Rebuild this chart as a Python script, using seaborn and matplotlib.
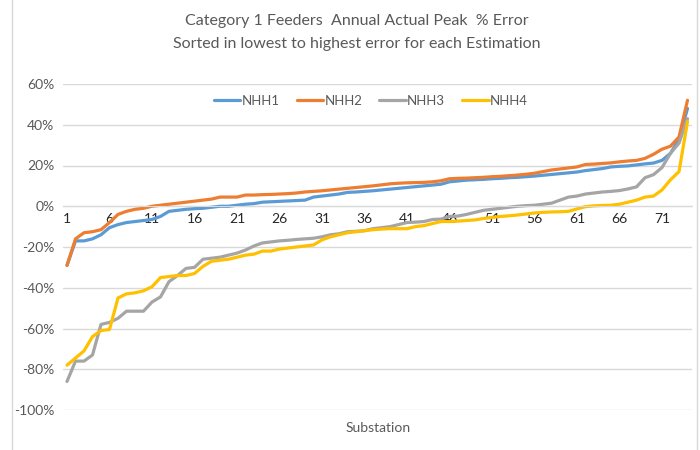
import matplotlib
matplotlib.use("Agg")
import matplotlib.pyplot as plt
import numpy as np
import pandas as pd
import seaborn as sns

# percent error per substation, sorted low -> high for each estimation
nhh1 = [-29, -17, -17, -16, -14, -10.5, -9, -8, -7.5, -7,
        -6.5, -5, -2.5, -2, -1.5, -1.2, -1, -0.5, 0, 0,
        0.5, 1, 1.3, 2, 2.2, 2.4, 2.6, 2.8, 3, 4.5,
        5, 5.5, 6, 6.8, 7, 7.3, 7.6, 8, 8.4, 8.8,
        9.2, 9.6, 10, 10.4, 10.8, 12, 12.4, 12.8, 13, 13.2,
        13.5, 13.7, 14, 14.2, 14.5, 14.8, 15.2, 15.6, 16, 16.4,
        16.8, 17.5, 18, 18.5, 19.3, 19.6, 19.8, 20.3, 20.8, 21.2,
        22.5, 26, 33, 48]
nhh2 = [-29, -16, -13, -12.5, -11.5, -8, -4, -2.5, -1.5, -1,
        0, 0.5, 1, 1.5, 2, 2.5, 3, 3.5, 4.5, 4.5,
        4.5, 5.5, 5.5, 5.7, 5.8, 6, 6.2, 6.5, 7, 7.3,
        7.6, 8, 8.4, 8.8, 9.2, 9.6, 10, 10.5, 11, 11.3,
        11.5, 11.6, 11.7, 12, 12.5, 13.5, 13.7, 13.8, 14, 14.2,
        14.5, 14.7, 15, 15.3, 15.7, 16.2, 17, 17.8, 18.3, 18.8,
        19.3, 20.5, 20.7, 21, 21.3, 21.8, 22.2, 22.5, 23.5, 25.5,
        28, 29.5, 34, 52]
nhh3 = [-86, -76, -76, -73, -58, -57, -55, -51.5, -51.5, -51.5,
        -47, -44.5, -37, -34, -30.5, -30, -26, -25.5, -25, -24,
        -23, -21.5, -19.5, -18, -17.5, -17, -16.7, -16.3, -16, -15.7,
        -15, -14, -13.5, -12.5, -12.3, -12, -11, -10.5, -10, -9,
        -8, -7.8, -7.5, -6.5, -6.3, -5, -4.8, -4, -3, -2,
        -1.5, -1, -0.5, 0, 0.3, 0.5, 1, 1.5, 3, 4.5,
        5, 6, 6.5, 7, 7.3, 7.7, 8.5, 9.5, 14, 15.5,
        19, 26, 31, 43]
nhh4 = [-78, -74.5, -71, -64, -61, -60.5, -45, -43, -42.5, -41.5,
        -39.5, -35, -34.5, -34, -34, -33, -29.5, -27, -26.5, -26,
        -25, -24, -23.5, -22, -22, -21, -20.5, -20, -19.5, -19,
        -16.5, -15, -14, -13, -12.5, -12, -11.5, -11.2, -11, -11,
        -11, -10, -9.5, -8.5, -7.5, -7.5, -7.3, -7, -6.7, -6,
        -5.5, -5, -4.7, -4.3, -3.8, -3.3, -3, -2.8, -2.7, -2.5,
        -1.3, -0.2, 0.2, 0.4, 0.5, 1, 2, 3, 4.5, 5,
        8, 13, 17, 41.5]

series = {"NHH1": nhh1, "NHH2": nhh2, "NHH3": nhh3, "NHH4": nhh4}
colors = ["#5B9BD5", "#ED7D31", "#A5A5A5", "#FFC000"]
substation = list(range(1, len(nhh1) + 1))
xticks = list(range(1, 72, 5))
yticks = [-100, -80, -60, -40, -20, 0, 20, 40, 60]

rows = []
for name, vals in series.items():
    for s, v in zip(substation, vals):
        rows.append({"Substation": s, "Error": v, "Estimation": name})
df = pd.DataFrame(rows)

sns.set_style("white")
plt.rcParams["font.family"] = ["Lato", "DejaVu Sans"]
txt = "#595959"

fig = plt.figure(figsize=(7, 4.5), dpi=100)
ax = fig.add_axes([62.75 / 700, 1 - 410 / 450, 629 / 700, 326 / 450])

sns.lineplot(data=df, x="Substation", y="Error", hue="Estimation",
             palette=colors, linewidth=2.3, ax=ax)

ax.set_xlim(0.5, 74.5)
ax.set_ylim(-100, 60)
ax.set_yticks(yticks)
ax.set_yticklabels([f"{t}%" for t in yticks], color=txt, fontsize=10)
ax.set_xticks(xticks)
ax.set_xticklabels([str(t) for t in xticks], color=txt, fontsize=10)
ax.grid(axis="y", color="#D9D9D9", linewidth=1)
ax.set_axisbelow(True)
for sp in ["top", "right", "left"]:
    ax.spines[sp].set_visible(False)
ax.spines["bottom"].set_position(("data", 0))
ax.spines["bottom"].set_color("#D9D9D9")
ax.tick_params(axis="both", length=0)
ax.tick_params(axis="x", pad=5)
ax.tick_params(axis="y", pad=6)
ax.set_xlabel("")
ax.set_ylabel("")

ax.legend(loc="center", bbox_to_anchor=(0.49, 0.948), ncol=4, frameon=False,
          fontsize=9.5, labelcolor=txt, handlelength=2.0, columnspacing=1.3,
          handletextpad=0.1)

fig.text(357 / 700, 1 - 21 / 450, "Category 1 Feeders  Annual Actual Peak  % Error",
         ha="center", va="center", fontsize=11.5, color=txt)
fig.text(357 / 700, 1 - 44 / 450, "Sorted in lowest to highest error for each Estimation",
         ha="center", va="center", fontsize=11.5, color=txt)
fig.text(378 / 700, 1 - 428 / 450, "Substation", ha="center", va="center",
         fontsize=10, color=txt)

# chart area border
fig.patches.append(plt.Rectangle((12 / 700, -0.01), 685 / 700, 1.02,
                                 transform=fig.transFigure, fill=False,
                                 edgecolor="#D9D9D9", linewidth=1))

fig.savefig("out.png", dpi=100)
